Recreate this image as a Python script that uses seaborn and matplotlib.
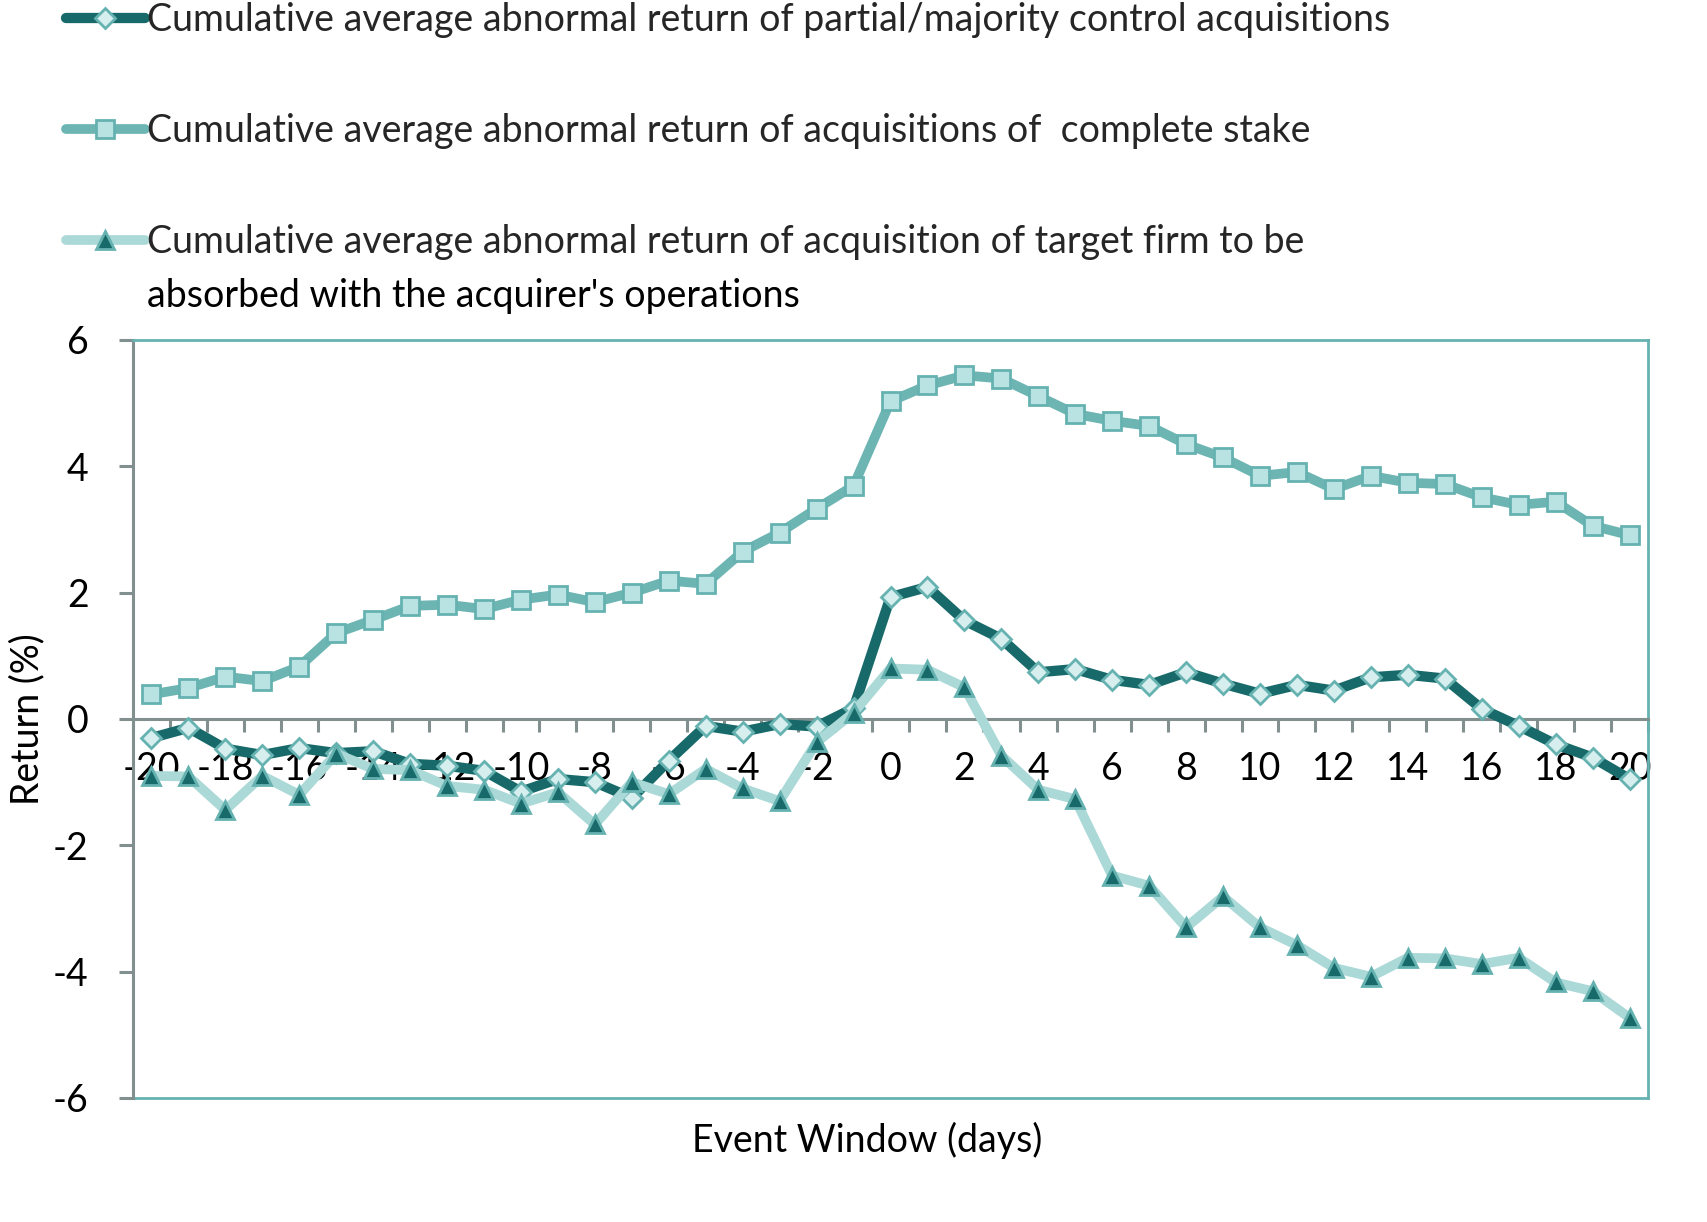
import matplotlib
matplotlib.use("Agg")
import matplotlib.pyplot as plt
import numpy as np
import pandas as pd
import seaborn as sns

# ---------------- data ----------------
days = list(range(-20, 21))

partial_majority = [-0.30, -0.14, -0.47, -0.57, -0.46, -0.54, -0.51, -0.71, -0.74, -0.82,
                    -1.15, -0.95, -1.00, -1.25, -0.66, -0.11, -0.20, -0.08, -0.12, 0.17,
                    1.93, 2.09, 1.56, 1.27, 0.74, 0.79, 0.62, 0.54, 0.74, 0.56,
                    0.40, 0.54, 0.45, 0.66, 0.70, 0.64, 0.16, -0.11, -0.40, -0.61,
                    -0.95]

complete_stake = [0.39, 0.49, 0.67, 0.60, 0.83, 1.36, 1.57, 1.79, 1.81, 1.74,
                  1.89, 1.97, 1.85, 2.00, 2.19, 2.14, 2.65, 2.95, 3.33, 3.69,
                  5.03, 5.28, 5.44, 5.39, 5.11, 4.83, 4.72, 4.64, 4.35, 4.14,
                  3.85, 3.91, 3.64, 3.85, 3.74, 3.72, 3.51, 3.39, 3.44, 3.06,
                  2.91]

absorbed = [-0.90, -0.91, -1.44, -0.90, -1.20, -0.55, -0.79, -0.81, -1.06, -1.12,
            -1.34, -1.16, -1.67, -1.00, -1.19, -0.79, -1.10, -1.30, -0.37, 0.10,
            0.80, 0.78, 0.50, -0.58, -1.12, -1.27, -2.48, -2.64, -3.30, -2.81,
            -3.30, -3.58, -3.94, -4.08, -3.78, -3.79, -3.88, -3.78, -4.17, -4.31,
            -4.73]

legend_labels = [
    "Cumulative average abnormal return of partial/majority control acquisitions",
    "Cumulative average abnormal return of acquisitions of  complete stake",
    "Cumulative average abnormal return of acquisition of target firm to be",
]
legend_label_line2 = "absorbed with the acquirer's operations"
x_label = "Event Window (days)"
y_label = "Return (%)"
xtick_days = list(range(-20, 21, 2))
yticks = [-6, -4, -2, 0, 2, 4, 6]

# ---------------- style ----------------
sns.set_style("white")
plt.rcParams['font.family'] = ['Lato', 'DejaVu Sans']
plt.rcParams['axes.unicode_minus'] = False

DARK = "#176a69"
PALE = "#d6efee"
EDGE = "#66b2b1"
MID_LINE = "#6cb5b3"
SQ_FILL = "#b9e3e3"
LIGHT_LINE = "#aad9d7"
GRAY = "#828f8f"
FS = 27

W, H = 1708, 1222
fig = plt.figure(figsize=(W / 100, H / 100), dpi=100)
ax = fig.add_axes([133 / W, 1 - 1098 / H, (1648 - 133) / W, (1098 - 340) / H])

df = pd.DataFrame({"day": days, "partial": partial_majority,
                   "complete": complete_stake, "absorbed": absorbed})

sns.lineplot(data=df, x="day", y="partial", ax=ax, color=DARK, linewidth=7.4,
             marker="D", markersize=10.5, markerfacecolor=PALE, markeredgecolor=EDGE,
             markeredgewidth=2.0, label=legend_labels[0], zorder=3)
sns.lineplot(data=df, x="day", y="complete", ax=ax, color=MID_LINE, linewidth=7.0,
             marker="s", markersize=13.5, markerfacecolor=SQ_FILL, markeredgecolor=EDGE,
             markeredgewidth=2.0, label=legend_labels[1], zorder=4)
sns.lineplot(data=df, x="day", y="absorbed", ax=ax, color=LIGHT_LINE, linewidth=7.0,
             marker="^", markersize=13.5, markerfacecolor=DARK, markeredgecolor=EDGE,
             markeredgewidth=2.0, label=legend_labels[2], zorder=5)
if ax.get_legend() is not None:
    ax.get_legend().remove()

ax.set_xlim(days[0] - 0.5, days[-1] + 0.5)
ax.set_ylim(yticks[0], yticks[-1])
ax.grid(False)

# spines
for s in ["left", "bottom"]:
    ax.spines[s].set_color(GRAY)
    ax.spines[s].set_linewidth(2.2)
ax.spines["bottom"].set_position(("data", 0))
for s in ["top", "right"]:
    ax.spines[s].set_color(EDGE)
    ax.spines[s].set_linewidth(2.0)
ax.axhline(yticks[0], color=EDGE, linewidth=2.0, clip_on=False, zorder=1)

# ticks
ax.set_xticks(xtick_days)
ax.set_xticklabels([str(d) for d in xtick_days])
ax.set_xticks(np.arange(days[0] - 0.5, days[-1] + 1.0, 1.0), minor=True)
ax.tick_params(axis="x", which="major", bottom=True, length=0, pad=23, labelsize=FS,
               labelcolor="black")
ax.tick_params(axis="x", which="minor", bottom=True, length=9, width=2.2, color=GRAY,
               direction="out")
ax.set_yticks(yticks)
ax.set_yticklabels([str(v) for v in yticks])
ax.tick_params(axis="y", which="major", left=True, length=10, width=2.2, color=GRAY,
               direction="out", pad=22, labelsize=FS, labelcolor="black")

ax.set_xlabel(x_label, fontsize=FS, color="black")
ax.xaxis.set_label_coords((867 - 133) / 1515, -0.031)
ax.set_ylabel(y_label, fontsize=FS, color="black")
ax.yaxis.set_label_coords((45 - 133) / 1515, 0.5)

# legend
handles, labels = ax.get_legend_handles_labels()
leg = fig.legend(handles, labels, loc="upper left",
                 bbox_to_anchor=(66 / W, 1 - 2 / H), frameon=False,
                 fontsize=FS, handlelength=2.1, handletextpad=0.05,
                 labelspacing=2.0, borderpad=0, borderaxespad=0)
fig.canvas.draw()
tb = leg.get_texts()[2].get_window_extent()
fig.text(tb.x0 / W, (tb.y0 - 54) / H, legend_label_line2, fontsize=FS,
         ha="left", va="bottom", color="black")

fig.savefig("out.png", dpi=100)
